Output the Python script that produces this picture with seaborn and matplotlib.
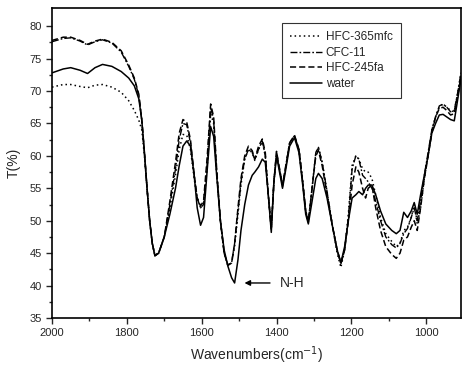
import numpy as np
import pandas as pd
import matplotlib
matplotlib.use("Agg")
import matplotlib.pyplot as plt
import seaborn as sns

# wavenumbers (cm-1) and transmittance (%)
wavenumber = [2000, 1970, 1950, 1925, 1905, 1885, 1865, 1840, 1815, 1795, 1780, 1768,
              1760, 1753, 1746, 1739, 1732, 1725, 1715, 1700, 1685, 1670, 1660, 1650,
              1640, 1630, 1620, 1612, 1603, 1595, 1585, 1576, 1568, 1560, 1550, 1540,
              1530, 1520, 1512, 1503, 1495, 1485, 1475, 1465, 1458, 1448, 1438, 1430,
              1422, 1414, 1407, 1400, 1392, 1384, 1375, 1365, 1352, 1340, 1330, 1322,
              1315, 1305, 1295, 1288, 1278, 1265, 1250, 1238, 1228, 1218, 1208, 1198,
              1188, 1180, 1170, 1162, 1155, 1145, 1135, 1122, 1108, 1092, 1080, 1070,
              1060, 1050, 1040, 1032, 1024, 1015, 1005, 995, 985, 975, 965, 955,
              945, 935, 925, 915, 907]

hfc_365mfc = [70.6, 71.0, 71.0, 70.7, 70.5, 70.9, 71.0, 70.6, 69.8, 68.5, 67.0, 65.5,
              64.0, 60.0, 55.0, 50.0, 46.5, 44.7, 45.0, 47.5, 52.0, 57.0, 61.0, 63.3,
              63.2, 61.0, 56.5, 53.5, 52.0, 52.5, 58.5, 66.5, 65.0, 57.5, 50.0, 45.0,
              43.1, 43.5, 46.0, 51.0, 55.5, 59.5, 61.0, 60.5, 59.3, 61.0, 62.2, 60.0,
              54.0, 48.8, 56.0, 60.3, 58.0, 55.5, 58.5, 62.0, 63.0, 61.0, 56.0, 51.5,
              50.0, 55.0, 60.5, 61.3, 59.0, 54.5, 49.0, 45.0, 42.8, 45.5, 51.0, 58.5,
              60.0, 59.5, 58.0, 57.5, 57.5, 56.5, 54.0, 50.5, 48.0, 46.8, 46.0, 46.5,
              48.5, 49.0, 50.5, 52.5, 49.5, 52.0, 56.5, 60.0, 64.0, 66.0, 67.5, 68.0,
              67.5, 67.0, 66.8, 70.0, 72.8]

cfc_11 = [77.6, 78.1, 78.2, 77.7, 77.1, 77.6, 77.9, 77.4, 76.0, 73.8, 71.8, 69.3,
          65.5, 60.5, 55.0, 50.0, 46.5, 44.6, 45.0, 47.5, 52.5, 58.0, 62.5, 65.0,
          64.8, 62.0, 57.0, 53.5, 52.0, 52.5, 59.0, 67.5, 65.5, 57.5, 50.0, 45.0,
          43.2, 43.5, 46.5, 51.5, 56.0, 59.5, 61.0, 60.5, 59.5, 61.0, 62.3, 60.0,
          54.0, 48.7, 56.0, 60.5, 58.0, 55.3, 58.5, 62.0, 63.1, 61.0, 56.0, 51.5,
          49.8, 55.0, 60.5, 61.3, 59.0, 54.5, 49.0, 45.5, 43.3, 45.5, 50.5, 58.0,
          60.0, 59.5, 57.0, 56.5, 56.0, 55.0, 53.0, 50.0, 47.5, 46.3, 45.8, 46.5,
          48.0, 48.8, 50.5, 52.0, 50.0, 53.0, 57.0, 60.5, 64.0, 66.0, 67.7, 68.0,
          67.5, 66.8, 67.0, 70.0, 72.8]

hfc_245fa = [77.8, 78.3, 78.3, 77.8, 77.2, 77.7, 78.0, 77.5, 76.2, 74.0, 72.0, 69.5,
             65.5, 60.5, 55.0, 50.0, 46.5, 44.6, 45.0, 47.5, 53.0, 59.0, 63.5, 65.6,
             65.2, 62.5, 57.0, 53.5, 52.3, 53.0, 60.0, 68.0, 66.0, 58.0, 50.0, 45.0,
             43.1, 43.5, 46.5, 52.0, 56.5, 60.0, 61.5, 60.8, 59.5, 61.5, 62.6, 60.5,
             54.0, 49.0, 56.0, 60.7, 58.0, 55.5, 58.5, 62.0, 63.2, 61.0, 56.0, 51.5,
             49.8, 55.0, 60.0, 60.8, 58.5, 54.0, 49.0, 45.5, 43.5, 45.5, 50.0, 55.5,
             58.3, 57.5, 55.0, 53.5, 55.0, 55.5, 52.0, 48.5, 46.0, 44.8, 44.2, 45.0,
             47.0, 47.5, 49.0, 50.0, 48.5, 52.0, 56.5, 60.0, 63.5, 66.0, 67.3, 67.5,
             67.0, 66.3, 66.5, 69.5, 72.3]

water = [72.8, 73.4, 73.6, 73.2, 72.7, 73.6, 74.1, 73.8, 73.0, 72.0, 70.8, 68.8,
         65.5, 60.5, 55.0, 50.0, 46.5, 44.6, 45.0, 47.5, 51.0, 55.0, 58.5, 61.5,
         62.3, 61.5, 57.0, 52.0, 49.3, 50.5, 58.0, 64.5, 63.0, 57.0, 50.0, 45.5,
         43.0, 41.2, 40.4, 44.0, 48.5, 52.5, 55.5, 57.0, 57.5, 58.3, 59.5, 59.0,
         54.0, 48.2, 56.0, 60.0, 57.5, 55.0, 58.0, 61.5, 62.8, 60.5, 55.5, 51.0,
         49.5, 53.0, 56.5, 57.3, 56.5, 53.5, 49.0, 45.5, 43.5, 46.0, 50.0, 53.5,
         54.0, 54.5, 54.0, 55.0, 55.5, 55.5, 54.0, 51.5, 49.5, 48.5, 48.0, 48.5,
         51.3, 50.5, 51.5, 52.8, 51.0, 54.0, 57.0, 60.0, 63.5, 65.0, 66.3, 66.4,
         66.0, 65.6, 65.4, 69.0, 72.0]

series = ["HFC-365mfc", "CFC-11", "HFC-245fa", "water"]
values = [hfc_365mfc, cfc_11, hfc_245fa, water]
styles = {"HFC-365mfc": (0, (1, 2)),
          "CFC-11": (0, (5, 1.5, 1.2, 1.5)),
          "HFC-245fa": (0, (4, 2)),
          "water": "-"}
widths = {"HFC-365mfc": 1.1, "CFC-11": 1.0, "HFC-245fa": 1.1, "water": 1.1}

df = pd.concat([pd.DataFrame({"wn": wavenumber, "T": v, "sample": s})
                for s, v in zip(series, values)])

sns.set_style("ticks")
plt.rcParams["font.family"] = ["Liberation Sans", "DejaVu Sans"]

fig = plt.figure(figsize=(4.62, 3.68), dpi=100)
ax = fig.add_axes([52 / 462, 50 / 368, 409 / 462, 310 / 368])

for s in series:
    sub = df[df["sample"] == s]
    sns.lineplot(data=sub, x="wn", y="T", ax=ax, color="black", label=s,
                 linestyle=styles[s], linewidth=widths[s], sort=False)

ax.set_xlim(2000, 907)
ax.set_ylim(35, 82.8)
ax.set_xticks([2000, 1800, 1600, 1400, 1200, 1000])
ax.set_xticks(np.arange(1900, 900, -200), minor=True)
ax.set_yticks(np.arange(35, 81, 5))
ax.set_yticks(np.arange(37.5, 82, 5), minor=True)
ax.tick_params(axis="both", which="major", labelsize=8, length=4, width=1, direction="out")
ax.tick_params(axis="both", which="minor", length=2.5, width=1, direction="out")
for sp in ax.spines.values():
    sp.set_linewidth(1.2)
    sp.set_color("black")

ax.set_xlabel("Wavenumbers(cm$^{-1}$)", fontsize=10, labelpad=4)
ax.set_ylabel("T(%)", fontsize=10, labelpad=6)

ax.annotate("", xy=(1493, 40.4), xytext=(1410, 40.4),
            arrowprops=dict(arrowstyle="-|>", color="black", lw=1, mutation_scale=8))
ax.text(1392, 40.4, "N-H", fontsize=10, va="center", ha="left")

leg = ax.legend(loc="upper left", bbox_to_anchor=((282 - 52) / 409, (318 - 23) / 310),
                borderaxespad=0, fontsize=8.5, frameon=True, fancybox=False,
                handlelength=2.7, handletextpad=0.3, labelspacing=0.3, borderpad=0.7)
leg.get_frame().set_edgecolor("black")
leg.get_frame().set_linewidth(0.8)

fig.savefig("out.png", dpi=100)
